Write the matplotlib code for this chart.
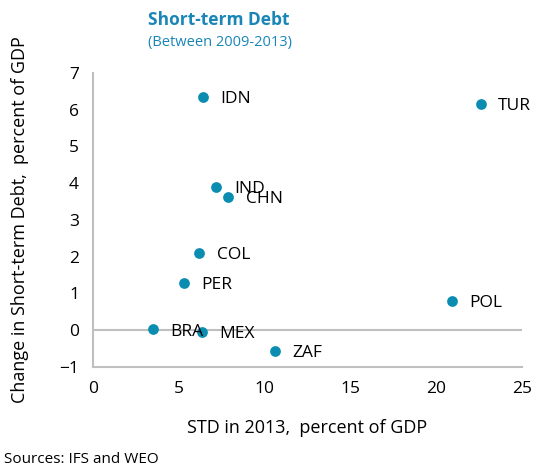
import matplotlib.pyplot as plt

plt.rcParams['font.family'] = ['Open Sans', 'DejaVu Sans']

# Datos
paises = ['IDN', 'TUR', 'IND', 'CHN', 'COL', 'PER', 'POL', 'BRA', 'MEX', 'ZAF']
std_2013 = [6.4, 22.6, 7.2, 7.9, 6.2, 5.3, 20.9, 3.5, 6.35, 10.6]
cambio_std = [6.34, 6.15, 3.89, 3.62, 2.10, 1.28, 0.79, 0.02, -0.05, -0.57]

azul = '#0A8DB0'
gris = '#BFBFBF'

fig = plt.figure(figsize=(5.37, 4.68), dpi=100)
ax = fig.add_axes([0.173, 0.216, 0.799, 0.628])

ax.scatter(std_2013, cambio_std, s=60, color=azul, zorder=3, linewidths=0)
for nombre, x, y in zip(paises, std_2013, cambio_std):
    ax.annotate(nombre, (x, y), xytext=(12.5, -1.5), textcoords='offset points',
                va='center', ha='left', fontsize=12.5, color='black', zorder=4)

ax.axhline(0, color=gris, lw=1.5, zorder=1)
ax.set_xlim(0, 25)
ax.set_ylim(-1, 7)
ax.set_xticks(range(0, 26, 5))
ax.set_yticks(range(-1, 8))

for lado in ['top', 'right']:
    ax.spines[lado].set_visible(False)
for lado in ['left', 'bottom']:
    ax.spines[lado].set_color(gris)
    ax.spines[lado].set_linewidth(1.5)
ax.tick_params(length=0, labelsize=12.5, pad=10)

ax.set_xlabel('STD in 2013,  percent of GDP', fontsize=13, labelpad=16)
ax.set_ylabel('Change in Short-term Debt,  percent of GDP', fontsize=13, labelpad=22)

fig.text(0.276, 0.958, 'Short-term Debt', fontsize=12.5, fontweight='bold',
         color='#1A86B8', ha='left', va='center')
fig.text(0.276, 0.91, '(Between 2009-2013)', fontsize=10.5, color='#1A86B8',
         ha='left', va='center')
fig.text(0.008, 0.003, 'Sources: IFS and WEO', fontsize=11, ha='left', va='bottom')

fig.savefig('out.png', dpi=100)
